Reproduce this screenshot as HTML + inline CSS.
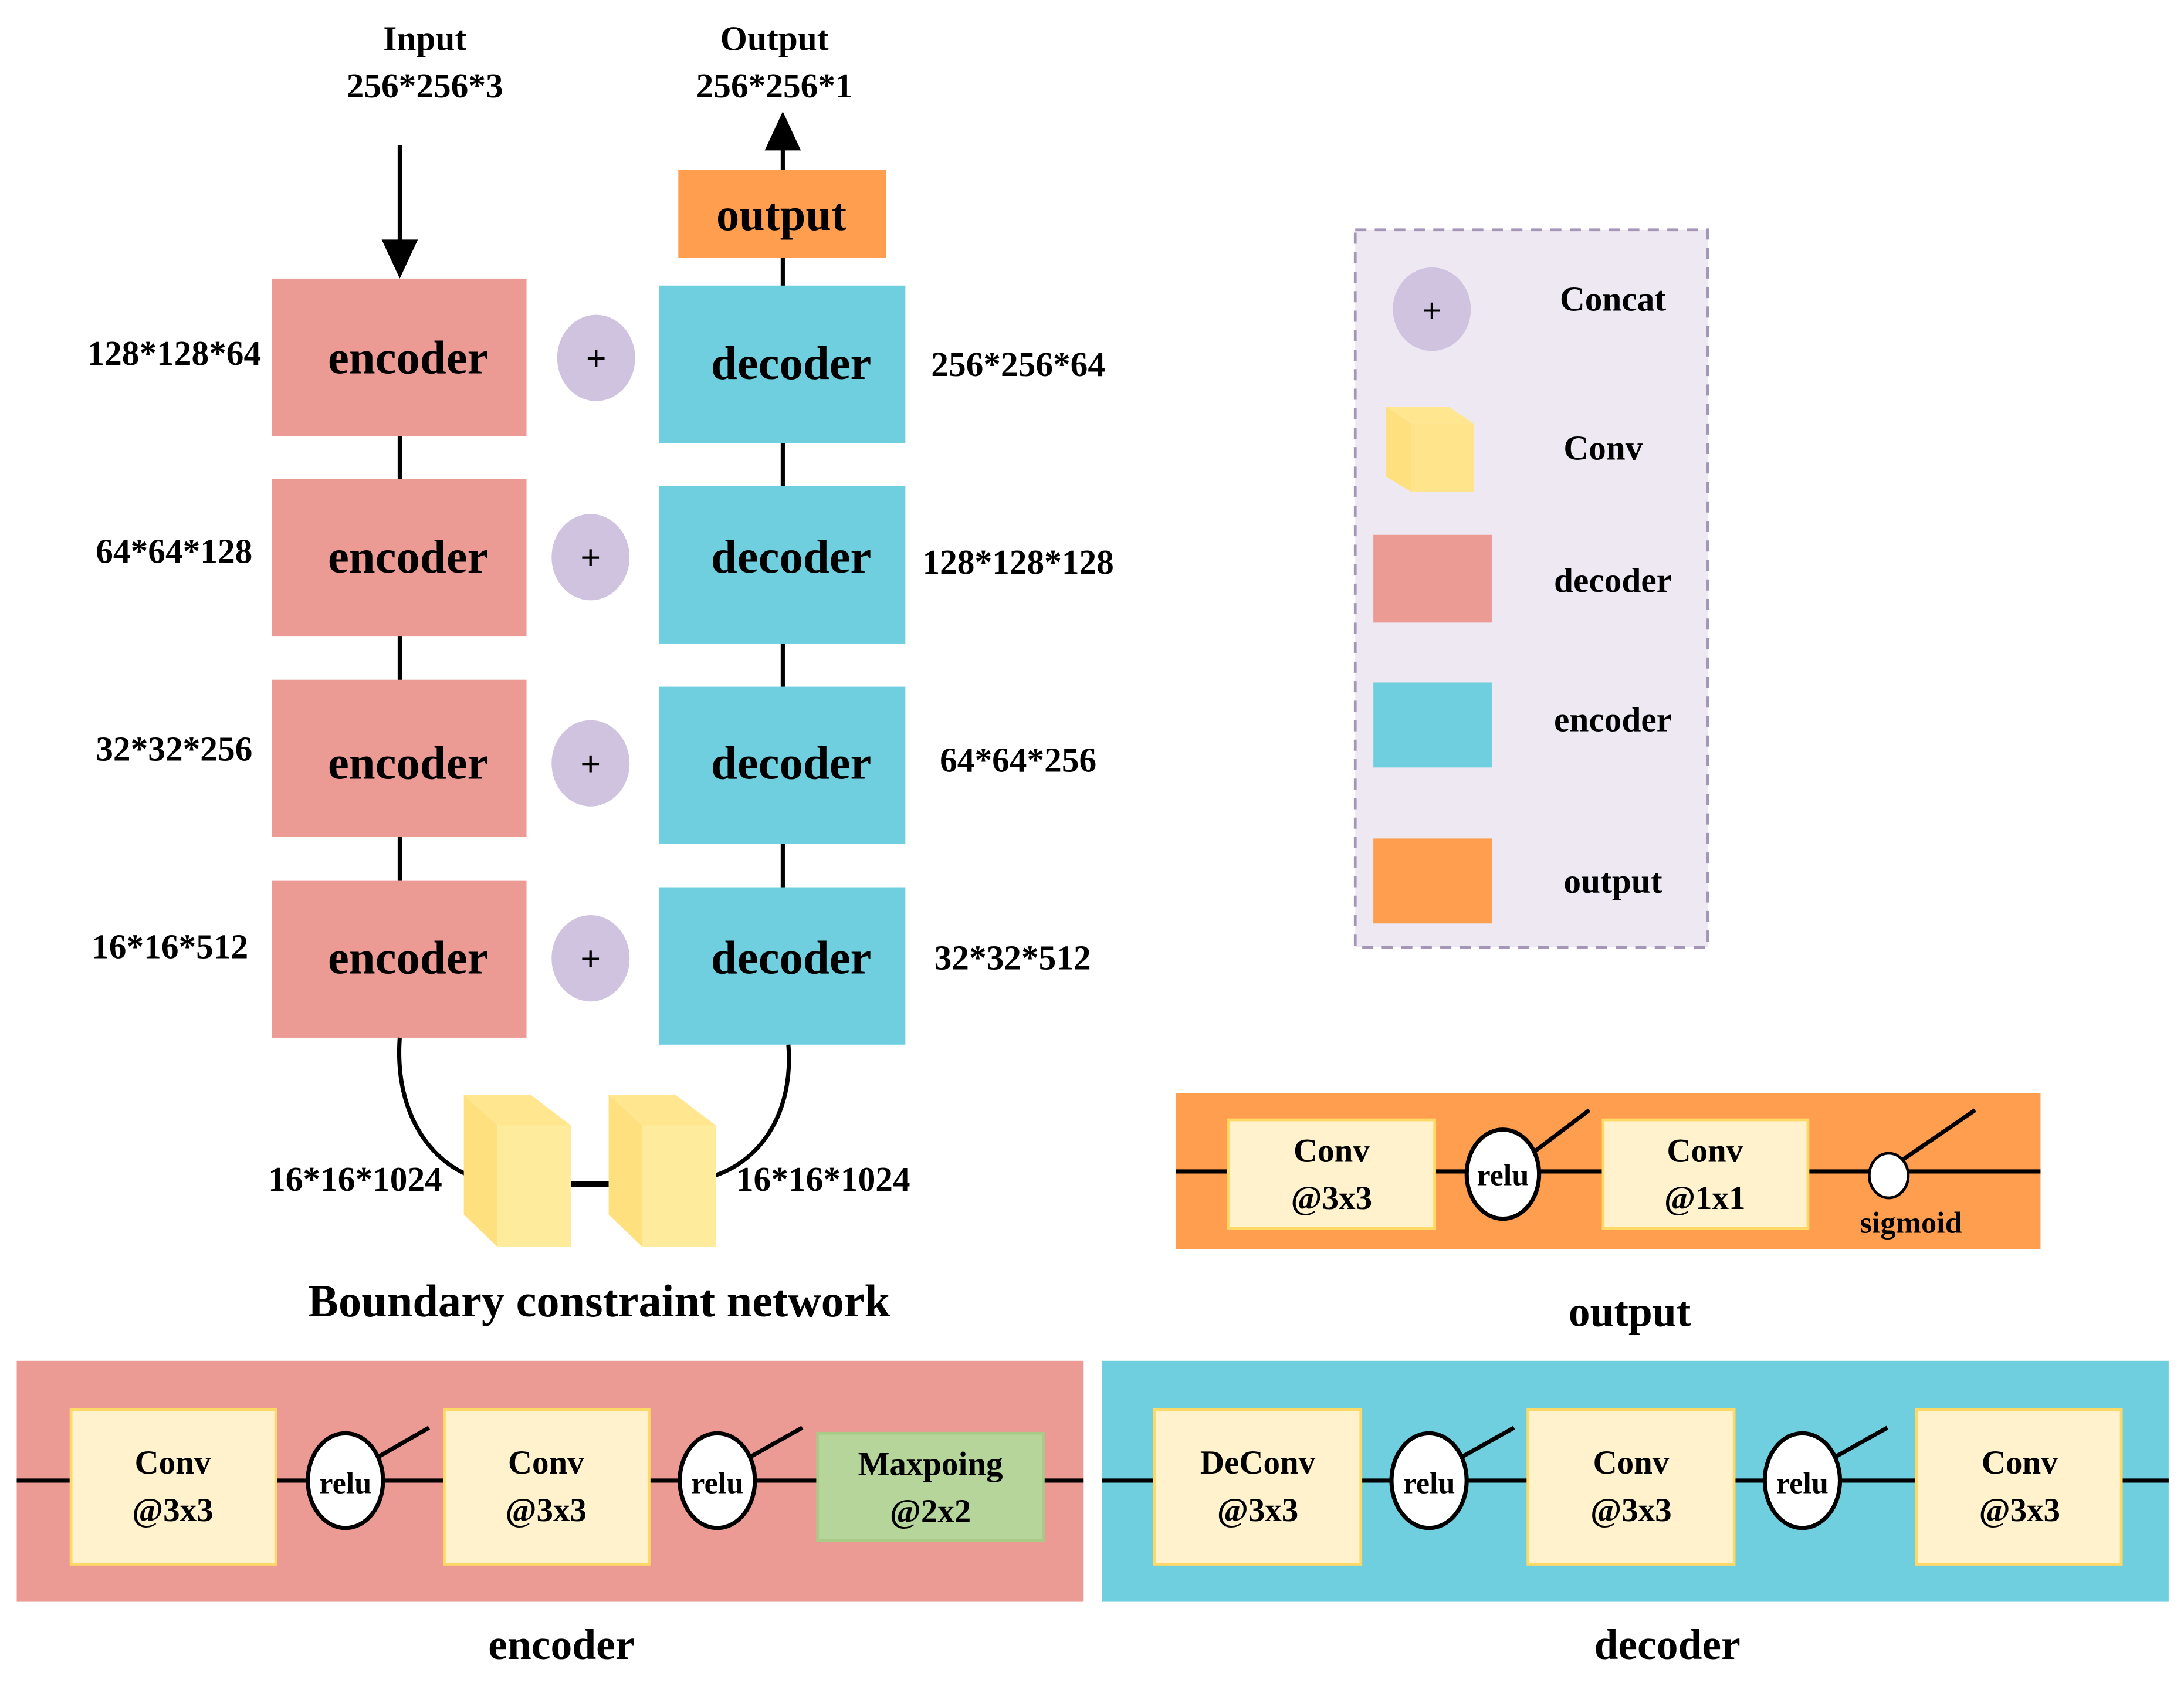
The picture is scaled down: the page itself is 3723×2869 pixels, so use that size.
<!DOCTYPE html>
<html><head><meta charset="utf-8"><style>
html,body{margin:0;padding:0;background:#fff}
svg{display:block}
text{font-family:"Liberation Serif",serif;font-weight:bold;fill:#000}
</style></head><body>
<svg width="3723" height="2869" viewBox="0 0 1568 1208.3" preserveAspectRatio="none" xmlns="http://www.w3.org/2000/svg">
<rect x="0" y="0" width="1568" height="1209" fill="#fff"/>
<!-- top labels -->
<text x="305" y="36" font-size="25" text-anchor="middle">Input</text>
<text x="305" y="70" font-size="25" text-anchor="middle">256*256*3</text>
<text x="556" y="36" font-size="25" text-anchor="middle">Output</text>
<text x="556" y="70" font-size="25" text-anchor="middle">256*256*1</text>
<!-- arrows -->
<line x1="287" y1="104" x2="287" y2="180" stroke="#000" stroke-width="3"/>
<polygon points="274,172 300,172 287,200" fill="#000"/>
<line x1="562" y1="122" x2="562" y2="100" stroke="#000" stroke-width="3"/>
<polygon points="549,108 575,108 562,80" fill="#000"/>
<!-- connectors -->
<line x1="287" y1="313" x2="287" y2="632" stroke="#000" stroke-width="3"/>
<line x1="562" y1="185" x2="562" y2="637" stroke="#000" stroke-width="3"/>
<!-- output box -->
<rect x="487" y="122" width="149" height="63" fill="#FF9E4F"/>
<text x="561" y="165" font-size="33" text-anchor="middle">output</text>
<!-- encoders -->
<g fill="#EC9A94">
<rect x="195" y="200" width="183" height="113"/>
<rect x="195" y="344" width="183" height="113"/>
<rect x="195" y="488" width="183" height="113"/>
<rect x="195" y="632" width="183" height="113"/>
</g>
<g font-size="34" text-anchor="middle">
<text x="293" y="268">encoder</text>
<text x="293" y="411">encoder</text>
<text x="293" y="559">encoder</text>
<text x="293" y="699">encoder</text>
</g>
<!-- decoders -->
<g fill="#6FCFDF">
<rect x="473" y="205" width="177" height="113"/>
<rect x="473" y="349" width="177" height="113"/>
<rect x="473" y="493" width="177" height="113"/>
<rect x="473" y="637" width="177" height="113"/>
</g>
<g font-size="34" text-anchor="middle">
<text x="568" y="272">decoder</text>
<text x="568" y="411">decoder</text>
<text x="568" y="559">decoder</text>
<text x="568" y="699">decoder</text>
</g>
<!-- concat circles -->
<g fill="#D0C3DF">
<ellipse cx="428" cy="257" rx="28" ry="31"/>
<ellipse cx="424" cy="400" rx="28" ry="31"/>
<ellipse cx="424" cy="548" rx="28" ry="31"/>
<ellipse cx="424" cy="688" rx="28" ry="31"/>
</g>
<g font-size="26" text-anchor="middle" style="font-family:'Liberation Sans',sans-serif;font-weight:normal">
<text x="428" y="266">+</text><text x="424" y="409">+</text><text x="424" y="557">+</text><text x="424" y="697">+</text>
</g>
<!-- dims -->
<g font-size="25" text-anchor="middle">
<text x="125" y="262">128*128*64</text>
<text x="125" y="404">64*64*128</text>
<text x="125" y="546">32*32*256</text>
<text x="122" y="688">16*16*512</text>
<text x="731" y="270">256*256*64</text>
<text x="731" y="412">128*128*128</text>
<text x="731" y="554">64*64*256</text>
<text x="727" y="696">32*32*512</text>
<text x="255" y="855">16*16*1024</text>
<text x="591" y="855">16*16*1024</text>
</g>
<!-- bottleneck curves -->
<path d="M287,745 C283,800 310,835 340,845" fill="none" stroke="#000" stroke-width="3"/>
<path d="M566,750 C570,800 545,835 510,845" fill="none" stroke="#000" stroke-width="3"/>
<line x1="410" y1="850" x2="437" y2="850" stroke="#000" stroke-width="4"/>
<!-- cubes -->
<g>
<polygon points="333,786 381,786 410,808 357,808" fill="#FFE68F"/>
<polygon points="333,786 357,808 357,895 333,872" fill="#FFE07E"/>
<rect x="357" y="808" width="53" height="87" fill="#FFEB9C"/>
<polygon points="437,786 485,786 514,808 461,808" fill="#FFE68F"/>
<polygon points="437,786 461,808 461,895 437,872" fill="#FFE07E"/>
<rect x="461" y="808" width="53" height="87" fill="#FFEB9C"/>
</g>
<text x="430" y="945" font-size="33" text-anchor="middle">Boundary constraint network</text>
<!-- legend -->
<rect x="973" y="165" width="253" height="515" fill="#EDE8F2" stroke="#A596B8" stroke-width="2" stroke-dasharray="8,6"/>
<ellipse cx="1028" cy="222" rx="28" ry="30" fill="#D0C3DF"/>
<text x="1028" y="231" font-size="24" text-anchor="middle" style="font-family:'Liberation Sans',sans-serif;font-weight:normal">+</text>
<text x="1158" y="223" font-size="25" text-anchor="middle">Concat</text>
<polygon points="995,292 1040,292 1058,304 1013,304" fill="#FFE68F"/>
<polygon points="995,292 1013,304 1013,353 995,342" fill="#FFE07E"/>
<rect x="1013" y="304" width="45" height="49" fill="#FFE48C"/>
<text x="1151" y="330" font-size="25" text-anchor="middle">Conv</text>
<rect x="986" y="384" width="85" height="63" fill="#EC9A94"/>
<text x="1158" y="425" font-size="25" text-anchor="middle">decoder</text>
<rect x="986" y="490" width="85" height="61" fill="#6FCFDF"/>
<text x="1158" y="525" font-size="25" text-anchor="middle">encoder</text>
<rect x="986" y="602" width="85" height="61" fill="#FF9E4F"/>
<text x="1158" y="641" font-size="25" text-anchor="middle">output</text>
<!-- output detail -->
<rect x="844" y="785" width="621" height="112" fill="#FF9E4F"/>
<line x1="844" y1="841" x2="1465" y2="841" stroke="#000" stroke-width="3"/>
<rect x="882" y="804" width="148" height="78" fill="#FFF2CC" stroke="#FFD966" stroke-width="2"/>
<rect x="1151" y="804" width="147" height="78" fill="#FFF2CC" stroke="#FFD966" stroke-width="2"/>
<line x1="1100" y1="828" x2="1141" y2="797" stroke="#000" stroke-width="3"/>
<ellipse cx="1079" cy="843" rx="26" ry="32" fill="#fff" stroke="#000" stroke-width="3"/>
<line x1="1364" y1="834" x2="1418" y2="797" stroke="#000" stroke-width="3"/>
<ellipse cx="1356" cy="844" rx="14" ry="16" fill="#fff" stroke="#000" stroke-width="2"/>
<g font-size="24" text-anchor="middle">
<text x="956" y="834">Conv</text><text x="956" y="868">@3x3</text>
<text x="1224" y="834">Conv</text><text x="1224" y="868">@1x1</text>
<text x="1079" y="851" font-size="22">relu</text>
<text x="1372" y="885" font-size="22">sigmoid</text>
</g>
<text x="1170" y="952" font-size="31" text-anchor="middle">output</text>
<!-- encoder detail -->
<rect x="12" y="977" width="766" height="173" fill="#EC9A94"/>
<line x1="12" y1="1063" x2="778" y2="1063" stroke="#000" stroke-width="3"/>
<rect x="51" y="1012" width="147" height="111" fill="#FFF2CC" stroke="#FFD966" stroke-width="2"/>
<rect x="319" y="1012" width="147" height="111" fill="#FFF2CC" stroke="#FFD966" stroke-width="2"/>
<rect x="587" y="1029" width="162" height="77" fill="#B5D59B" stroke="#A8CC88" stroke-width="2"/>
<line x1="268" y1="1048" x2="308" y2="1025" stroke="#000" stroke-width="3"/>
<line x1="535" y1="1048" x2="576" y2="1025" stroke="#000" stroke-width="3"/>
<ellipse cx="248" cy="1063" rx="27" ry="34" fill="#fff" stroke="#000" stroke-width="3"/>
<ellipse cx="515" cy="1063" rx="27" ry="34" fill="#fff" stroke="#000" stroke-width="3"/>
<g font-size="24" text-anchor="middle">
<text x="124" y="1058">Conv</text><text x="124" y="1092">@3x3</text>
<text x="392" y="1058">Conv</text><text x="392" y="1092">@3x3</text>
<text x="668" y="1059">Maxpoing</text><text x="668" y="1093">@2x2</text>
<text x="248" y="1072" font-size="22">relu</text>
<text x="515" y="1072" font-size="22">relu</text>
</g>
<!-- decoder detail -->
<rect x="791" y="977" width="766" height="173" fill="#6FCFDF"/>
<line x1="791" y1="1063" x2="1557" y2="1063" stroke="#000" stroke-width="3"/>
<rect x="829" y="1012" width="148" height="111" fill="#FFF2CC" stroke="#FFD966" stroke-width="2"/>
<rect x="1097" y="1012" width="148" height="111" fill="#FFF2CC" stroke="#FFD966" stroke-width="2"/>
<rect x="1376" y="1012" width="147" height="111" fill="#FFF2CC" stroke="#FFD966" stroke-width="2"/>
<line x1="1046" y1="1048" x2="1087" y2="1025" stroke="#000" stroke-width="3"/>
<line x1="1314" y1="1048" x2="1355" y2="1025" stroke="#000" stroke-width="3"/>
<ellipse cx="1026" cy="1063" rx="27" ry="34" fill="#fff" stroke="#000" stroke-width="3"/>
<ellipse cx="1294" cy="1063" rx="27" ry="34" fill="#fff" stroke="#000" stroke-width="3"/>
<g font-size="24" text-anchor="middle">
<text x="903" y="1058">DeConv</text><text x="903" y="1092">@3x3</text>
<text x="1171" y="1058">Conv</text><text x="1171" y="1092">@3x3</text>
<text x="1450" y="1058">Conv</text><text x="1450" y="1092">@3x3</text>
<text x="1026" y="1072" font-size="22">relu</text>
<text x="1294" y="1072" font-size="22">relu</text>
</g>
<text x="403" y="1191" font-size="31" text-anchor="middle">encoder</text>
<text x="1197" y="1191" font-size="31" text-anchor="middle">decoder</text>
</svg>
</body></html>
